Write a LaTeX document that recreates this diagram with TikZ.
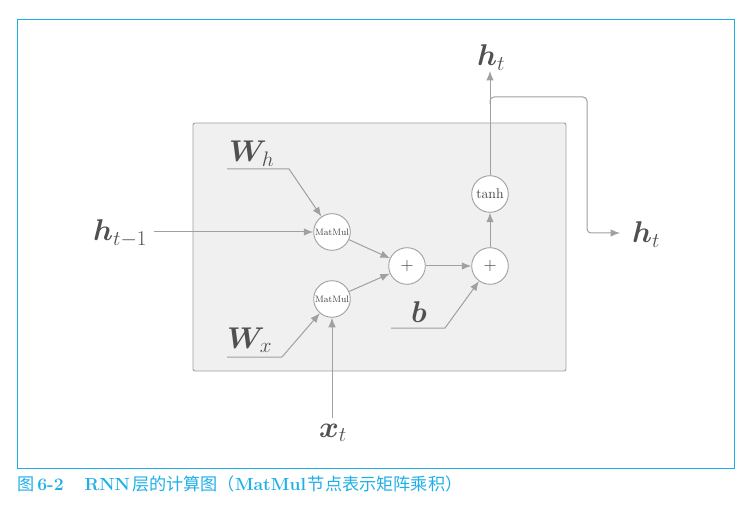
\RequirePackage{fix-cm}
\documentclass[tikz,border=0pt]{standalone}
\usepackage{fontspec}
\newfontfamily\cjk[Scale=0.98]{Noto Sans CJK SC}
\usepackage{bm}
\usetikzlibrary{arrows.meta}
\definecolor{framecol}{RGB}{30,175,232}
\definecolor{linecol}{RGB}{160,160,160}
\definecolor{textcol}{RGB}{80,80,80}
\definecolor{boxcol}{RGB}{240,240,240}

\begin{document}
\begin{tikzpicture}[x=1pt,y=-1pt,
	arr/.style={draw=linecol, line width=1pt, -{Latex[length=9.5pt,width=7.5pt]}},
	op/.style={circle, draw=linecol, fill=white, line width=0.9pt, minimum size=36.6pt, inner sep=0pt, text=black!75},
	lbl/.style={anchor=base west, inner sep=0pt, text=textcol, font=\fontsize{30}{36}\selectfont}]

\useasboundingbox (0,0) rectangle (754,510);

\draw [framecol, line width=1pt] (17.5,19.5) rectangle (734,468);
\draw [linecol, fill=boxcol, line width=0.9pt, rounded corners=2pt] (193,123) rectangle (566,371);

\node [op, font=\fontsize{9.3}{10}\selectfont] (mm1) at (332,232) {MatMul};
\node [op, font=\fontsize{9.3}{10}\selectfont] (mm2) at (332,299) {MatMul};
\node [op, font=\fontsize{18}{20}\selectfont] (add1) at (407,266) {$+$};
\node [op, font=\fontsize{18}{20}\selectfont] (add2) at (490,266) {$+$};
\node [op, font=\fontsize{14}{16}\selectfont] (tanh) at (490,194) {tanh};

\node [lbl] (hprev) at (93,241) {$\bm{h}_{t-1}$};
\node [lbl] (wh) at (229,162) {$\bm{W}_h$};
\node [lbl] (wx) at (227,348) {$\bm{W}_x$};
\node [lbl] (bias) at (411,322) {$\bm{b}$};
\node [lbl] (xt) at (319,437) {$\bm{x}_t$};
\node [lbl] (htop) at (477,66) {$\bm{h}_t$};
\node [lbl] (hright) at (632,243) {$\bm{h}_t$};

\coordinate (hin) at (154,232);
\coordinate (wh0) at (227,169);
\coordinate (wh1) at (289,169);
\coordinate (wx0) at (227,357);
\coordinate (wx1) at (282,357);
\coordinate (b0) at (391,328);
\coordinate (b1) at (445,328);
\coordinate (xin) at (332,418);
\coordinate (hout) at (490,71);
\coordinate (br) at (490,104);
\coordinate (hnext) at (620,233);

\draw [arr] (hin) -- (mm1);
\draw [arr] (wh0) -- (wh1) -- (mm1);
\draw [arr] (wx0) -- (wx1) -- (mm2);
\draw [arr] (xin) -- (mm2);
\draw [arr] (mm1) -- (add1);
\draw [arr] (mm2) -- (add1);
\draw [arr] (add1) -- (add2);
\draw [arr] (b0) -- (b1) -- (add2);
\draw [arr] (add2) -- (tanh);
\draw [arr] (tanh) -- (hout);
\draw [arr, rounded corners=4pt] (br) -- (490,97) -- (587,97) -- (587,233) -- (hnext);

\node [anchor=base west, inner sep=0pt, text=framecol, font=\fontsize{17.5}{20}\selectfont\bfseries] (cap) at (17,490.5)
	{{\cjk\mdseries 图}\hspace{3pt}6-2\hspace{21pt}RNN\hspace{2pt}{\cjk\mdseries 层的计算图（}MatMul\hspace{2pt}{\cjk\mdseries 节点表示矩阵乘积）}};
\end{tikzpicture}
\end{document}
